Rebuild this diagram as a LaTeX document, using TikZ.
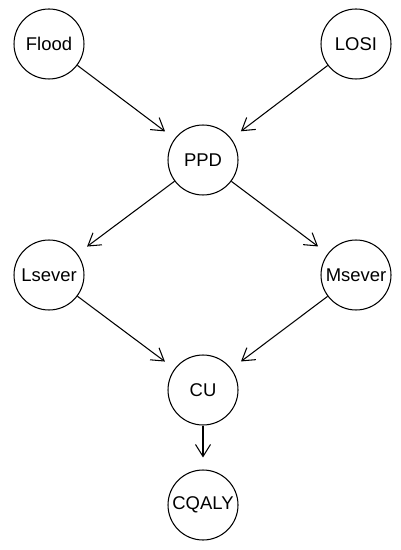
\documentclass[tikz,border=0pt]{standalone}
\usepackage{fontspec}
\setmainfont{Liberation Sans}
\usetikzlibrary{arrows.meta}
\begin{document}
\begin{tikzpicture}[x=0.02cm, y=-0.02cm,
    var/.style={draw, circle, line width=0.6pt, minimum size=1.4cm, inner sep=0pt, font=\fontsize{10.5}{12}\selectfont},
    edge/.style={-{Straight Barb[length=0.24cm, width=0.3cm]}, line width=0.6pt, shorten >=0.24cm}]
                \useasboundingbox (0,0) rectangle (401,550);

                % Variables
                \node[var] (flood) at (49,44) {Flood};
                \node[var] (losi) at (356,44) {LOSI};
                \node[var] (ppd) at (203,160) {PPD};
                \node[var] (lsever) at (49,275) {Lsever};
                \node[var] (msever) at (356,275) {Msever};
                \node[var] (cu) at (203,390) {CU};
                \node[var] (cqaly) at (203,505) {CQALY};

                % Dependencies
                \draw[edge] (flood) -- (ppd);
                \draw[edge] (losi) -- (ppd);
                \draw[edge] (ppd) -- (lsever);
                \draw[edge] (ppd) -- (msever);
                \draw[edge] (lsever) -- (cu);
                \draw[edge] (msever) -- (cu);
                \draw[edge] (cu) -- (cqaly);
            \end{tikzpicture}
\end{document}
